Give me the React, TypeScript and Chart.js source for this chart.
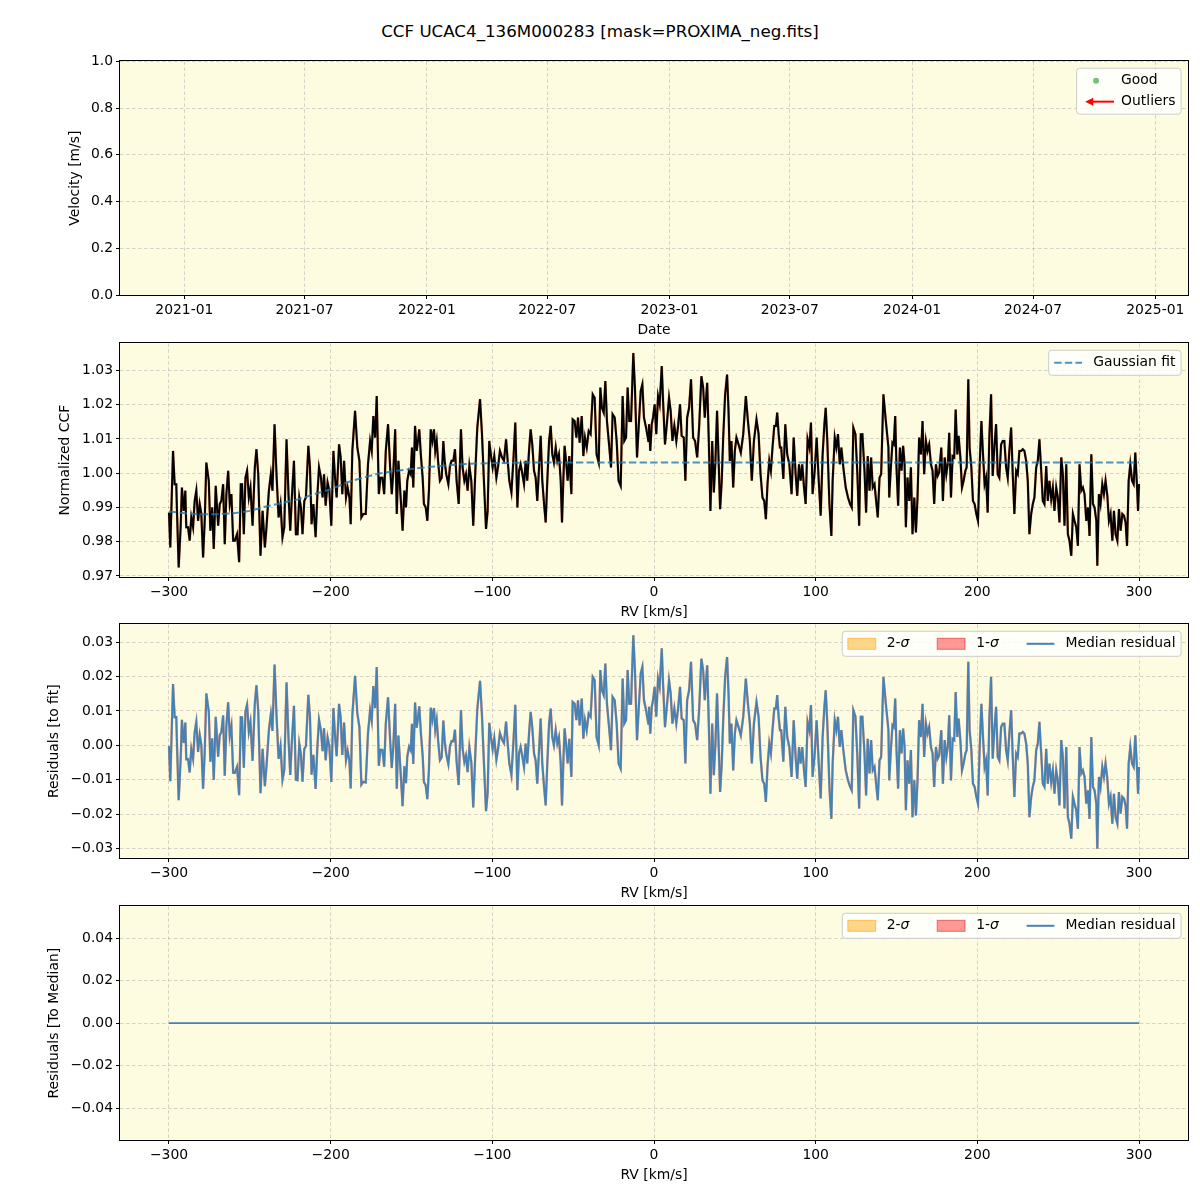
import React, { useEffect, useRef } from 'react';
import { Chart, registerables } from 'chart.js';

Chart.register(...registerables);

const FONT = "'DejaVu Sans', sans-serif";
const FS = 13.9;
const BG = '#fdfce1';
const TITLE = 'CCF UCAC4_136M000283 [mask=PROXIMA_neg.fits]';

// ---------- data ----------
// panel 1 (no measurements plotted)
const goodDates: number[] = [];
const goodVelocity: number[] = [];
const outlierDates: number[] = [];
const outlierVelocity: number[] = [];
// date ticks: days since 2021-01-01
const dateTickDays = [0, 181, 365, 546, 730, 911, 1095, 1277, 1461];
const dateTickLabels = ['2021-01', '2021-07', '2022-01', '2022-07', '2023-01', '2023-07', '2024-01', '2024-07', '2025-01'];
const velocityTicks = [0, 0.2, 0.4, 0.6, 0.8, 1.0];

const rvTicks = [-300, -200, -100, 0, 100, 200, 300];
const ccfTicks = [0.97, 0.98, 0.99, 1.0, 1.01, 1.02, 1.03];
const residTicks = [-0.03, -0.02, -0.01, 0, 0.01, 0.02, 0.03];
const medianTicks = [-0.04, -0.02, 0, 0.02, 0.04];

// CCF profile: [RV km/s, normalized CCF]
const ccfPoints: [number, number][] = [
  [-300, 0.9885], [-299.2, 0.9783], [-297.5, 1.0065], [-296.5, 0.9968], [-295.5, 0.9968], [-295, 0.9881], [-294, 0.9725], [-292.8, 0.9842], [-292, 0.9958], [-290.9, 0.989],
  [-289.9, 0.9949], [-289.3, 0.9842], [-288.2, 0.9842], [-287.2, 0.9803], [-286.2, 0.9871], [-285.1, 0.9842], [-284.1, 0.9919], [-283.1, 0.9949], [-282, 0.9861], [-281, 0.991],
  [-280, 0.9881], [-278.9, 0.9754], [-277.9, 0.9861], [-276.9, 1.0031], [-275.4, 0.9978], [-274.4, 0.9832], [-273.3, 0.99], [-272.3, 0.9779], [-271.1, 0.9963], [-269.6, 0.9847],
  [-268.6, 0.991], [-267.6, 0.9919], [-266.5, 0.9968], [-265.5, 0.9793], [-264.5, 0.9939], [-263.4, 1.0007], [-262.4, 0.991], [-261.4, 0.9939], [-260.3, 0.9803], [-259.3, 0.9803],
  [-257.9, 0.9822], [-256.6, 0.974], [-255.6, 0.9968], [-254.8, 0.9968], [-253.7, 0.9822], [-252.7, 0.9987], [-251.7, 1.0007], [-250.6, 0.9929], [-249.6, 0.9958], [-248.3, 0.9847],
  [-246.9, 1.0017], [-245.9, 1.007], [-244.8, 0.9997], [-243.4, 0.9759], [-242.1, 0.989], [-240.7, 0.9783], [-239.7, 0.9842], [-238.2, 0.9949], [-237, 0.9997], [-236, 0.9949],
  [-234.7, 1.0143], [-233.5, 0.9997], [-232.2, 0.9871], [-231, 0.991], [-229.8, 0.9813], [-228.7, 0.9842], [-227.3, 1.0099], [-226, 0.9929], [-225, 0.9832], [-224, 0.9929],
  [-222.7, 1.0036], [-221.5, 0.9822], [-220.5, 0.9822], [-219.4, 0.9929], [-218.4, 0.99], [-217.4, 0.9822], [-216.3, 0.9919], [-215.3, 0.9929], [-213.8, 1.008], [-212.8, 1.0017],
  [-211.8, 0.9851], [-210.7, 0.991], [-209.3, 0.9813], [-208.3, 0.9929], [-207.2, 1.0017], [-206, 0.9987], [-205, 0.9929], [-204.1, 0.9997], [-203.1, 0.9905], [-201.9, 0.9973],
  [-200.8, 0.9949], [-199.6, 0.9847], [-198.3, 1.0065], [-197.3, 0.9987], [-196.3, 0.9929], [-194.8, 1.0084], [-193.8, 1.0046], [-192.8, 0.9939], [-191.7, 1.0036], [-190.5, 0.9929],
  [-189.5, 0.9958], [-188.4, 0.9929], [-187.6, 0.9851], [-186.6, 1.0065], [-184.9, 1.0182], [-183.5, 1.0075], [-182.2, 1.0036], [-181, 0.9871], [-179.8, 0.9881], [-178.3, 0.9881],
  [-176.9, 1.0026], [-175.6, 1.0094], [-174.6, 1.0065], [-173.6, 1.0167], [-172.5, 1.0104], [-171.5, 1.0225], [-170.2, 0.9939], [-169.2, 0.9987], [-168, 0.9987], [-166.9, 0.9939],
  [-165.9, 1.0065], [-164.5, 1.0143], [-163.2, 1.0017], [-162.2, 0.9939], [-161.2, 1.0007], [-160.1, 1.0128], [-159.1, 0.9881], [-158.1, 1.0036],
  [-156.1, 0.9881], [-155.5, 0.9832], [-154.4, 0.9949], [-153.4, 0.99], [-152.6, 0.9978], [-151.5, 1.0007], [-150.5, 0.9997], [-149.7, 1.0075], [-148.9, 0.9958], [-147.8, 1.0138],
  [-146.8, 1.0065], [-146, 1.0094], [-145.2, 1.0128], [-144.1, 1.0046], [-143.1, 0.9987], [-142.3, 0.991], [-141.2, 0.99], [-140.2, 0.9861], [-139.2, 0.9949], [-138.1, 1.0128],
  [-137.1, 1.0094], [-136.1, 1.0128], [-135.3, 1.0065], [-134.4, 1.0094], [-133.4, 1.0026], [-132.4, 0.9978], [-131.3, 0.9987], [-130.3, 1.0094], [-129.5, 1.0036], [-128.5, 0.9997],
  [-127.2, 0.9968], [-126.2, 1.0021], [-125.2, 1.0036], [-124.1, 1.0036], [-123.1, 1.007], [-122.1, 0.9978], [-120.8, 0.991], [-119.4, 1.0128], [-118.4, 1.0017], [-117.3, 0.9978],
  [-116.3, 0.9997], [-115.3, 0.9949], [-114.2, 1.0021], [-113, 0.9978], [-111.8, 0.9847], [-110.5, 1.0007], [-109.3, 1.0133], [-107.6, 1.0216], [-106.4, 1.0114], [-105.2, 0.9978],
  [-103.9, 0.9837], [-102.9, 0.989], [-101.9, 1.0094], [-100.8, 1.005], [-99.8, 1.0017], [-98.8, 1.005], [-97.5, 0.9987], [-96.5, 1.0017], [-95.3, 1.0065], [-94, 1.0046],
  [-92.8, 1.0036], [-91.5, 1.0099], [-90.5, 1.0036], [-89.5, 0.9978], [-88.2, 0.9944], [-87, 1.0036], [-85.8, 1.0148], [-84.5, 0.99], [-83.5, 1.0007], [-82.5, 1.0026],
  [-81.4, 0.9997], [-80.4, 0.9968], [-79.4, 1.0036], [-78.4, 0.9978], [-77.3, 1.0065], [-76.3, 1.0128], [-75.3, 1.0084], [-74.2, 1.0007], [-73.2, 0.9987], [-72.2, 0.9919],
  [-71.1, 1.0017], [-70.1, 1.0109], [-69.1, 0.9978], [-68, 0.991], [-67, 0.9856], [-66, 0.9978], [-64.9, 1.0094], [-63.9, 1.0138], [-62.9, 1.0055], [-61.9, 1.0031],
  [-60.8, 1.0075], [-59.8, 1.0036], [-58.8, 1.0055], [-57.7, 0.9978], [-56.9, 0.9856], [-56.1, 0.9978], [-55.3, 1.008], [-54.4, 1.0036], [-53.4, 0.9978], [-52.4, 1.005],
  [-51.1, 0.9939], [-50.3, 1.0157], [-49.1, 1.0152], [-48, 1.0104], [-47, 1.0162], [-46, 1.0089], [-44.7, 1.0167], [-43.7, 1.005], [-42.7, 1.0104], [-41.6, 1.0075],
  [-40.4, 1.0123], [-39.2, 1.0114], [-37.9, 1.023], [-36.7, 1.022], [-35.5, 1.0055], [-34.2, 1.0031], [-33.2, 1.025], [-32.2, 1.0191], [-31.1, 1.0177], [-30.1, 1.0269],
  [-29.1, 1.0152], [-27.8, 1.0084], [-26.6, 1.0017], [-25.6, 1.0172], [-24.3, 1.0162], [-23.1, 1.0094], [-21.9, 0.9978], [-20.6, 0.9963], [-19.4, 1.0225], [-18.4, 1.0094],
  [-17.3, 1.0104], [-16.3, 1.025], [-15.3, 1.0152], [-14.2, 1.0152], [-12.8, 1.0351], [-11.8, 1.025], [-10.5, 1.0046], [-9.5, 1.0133], [-8.2, 1.024], [-7.2, 1.0259],
  [-6.2, 1.0162], [-4.9, 1.0133], [-3.5, 1.0094],
  [-3.1, 1.0143], [-2.3, 1.0065], [-1.4, 1.0143], [-0.6, 1.0162], [0.4, 1.0201], [1.4, 1.0114], [2.5, 1.0225], [3.5, 1.0201], [4.8, 1.0313], [5.6, 1.0211],
  [6.8, 1.0084], [8.1, 1.0152], [9.3, 1.022], [10.3, 1.0182], [11.4, 1.0094], [12.6, 1.0138], [13.8, 1.0094], [14.9, 1.0138], [16.1, 1.0201], [17.1, 1.0109],
  [18.4, 1.0104], [19.4, 0.9978], [20.5, 1.0162], [21.7, 1.0191], [22.9, 1.0274], [24.2, 1.0104], [25.4, 1.0094], [26.7, 1.0046], [27.9, 1.0133], [29.3, 1.0283],
  [30.4, 1.025], [31.4, 1.0162], [32.9, 1.0264], [33.9, 1.0094], [34.9, 0.989], [36, 1.0094], [37, 0.9944], [38, 1.0036], [39, 1.0182], [40.1, 1.0017],
  [40.9, 0.9895], [41.9, 0.9978], [42.8, 1.0104], [44, 1.023], [45.2, 1.0288], [46.1, 1.0182], [46.9, 1.0036], [47.9, 1.0094], [49, 0.9958], [50, 1.0065],
  [51, 1.0104], [52.3, 1.0084], [53.7, 1.006], [55.2, 1.0114], [56.8, 1.0225], [58.1, 1.0152], [59.3, 1.0094], [60.5, 0.9978], [61.8, 1.0094], [63.4, 1.0157],
  [64.7, 1.0114], [65.9, 0.9997], [67.1, 0.9929], [68.2, 0.9919], [69.2, 0.9866], [70.2, 0.9968], [71.3, 1.0036], [72.3, 1.0007], [73.3, 1.0075], [74.4, 1.0138],
  [75.4, 1.0138], [76.2, 1.0177], [77.1, 1.0114], [77.9, 1.0075], [78.7, 1.0075], [80, 0.9983], [81.2, 1.0143], [82.4, 1.0055], [83.7, 1.0026], [85.1, 0.9939],
  [86.4, 1.0104], [87.6, 0.9997], [88.6, 0.9934], [89.7, 1.0026], [90.7, 0.9978], [91.7, 1.0026], [92.8, 0.9958], [93.8, 0.991], [95, 1.0099], [96.1, 1.0075],
  [97.1, 1.0148], [98.1, 0.9939], [99.4, 1.0007], [100.6, 1.0104], [101.9, 0.9978], [103.1, 0.9876], [104.3, 1.0055], [105.4, 1.0143], [106.2, 1.0191], [107.2, 1.0094],
  [108.5, 0.991], [109.7, 0.9817], [110.5, 0.9978], [111.8, 1.0104], [112.8, 1.0075], [113.8, 1.0114], [114.9, 1.0026], [115.9, 1.0075], [117.1, 1.0017], [118.6, 0.9958],
  [120, 0.9929], [121.3, 0.991], [122.3, 0.99], [123.3, 1.0133], [124.6, 1.0114], [125.8, 0.9997], [126.9, 0.9847], [127.9, 1.0114], [128.9, 1.0114], [130.2, 1.0007],
  [131.2, 0.9885], [132.2, 1.005], [133.3, 0.9949], [134.3, 1.0046], [135.3, 0.9958], [136.4, 0.9968], [137.4, 0.9919], [138.4, 0.9871], [139.5, 0.9987], [140.5, 0.9997],
  [141.9, 1.023], [143.4, 1.0152], [145, 1.0075],
  [145.5, 0.9929], [146.5, 1.0017], [147.5, 1.0089], [148.3, 1.0084], [149.2, 1.0167], [150, 1.0017], [151, 0.9905], [152.1, 1.0075], [153.1, 1.0007], [154.1, 1.008],
  [155, 1.0026], [155.8, 0.9842], [156.8, 0.9987], [157.9, 0.9919], [158.9, 1.0017], [159.9, 0.9822], [161, 0.9929], [162, 0.9827], [163, 0.9929], [164, 1.0104],
  [165.1, 1.0055], [166.1, 1.0152], [167.1, 0.9997], [168.2, 1.0094], [169.2, 1.0065], [170.2, 1.0084], [171.3, 1.0026], [172.3, 1.0007], [173.3, 0.991], [174.4, 1.0026],
  [175.4, 0.9992], [176.4, 1.0002], [177.7, 1.0075], [178.7, 0.9919], [179.8, 1.0046], [180.8, 0.9997], [181.8, 1.0031], [182.6, 1.0118], [183.7, 0.9929], [184.7, 1.005],
  [185.7, 1.0046], [186.6, 1.0186], [187.6, 1.0055], [188.4, 1.0109], [189.5, 1.0046], [190.5, 0.9958], [191.5, 0.9978], [192.6, 1.0007], [193.4, 1.0017], [194.4, 1.0274],
  [195.2, 1.0075], [196.3, 1.0017], [197.3, 0.9919], [198.3, 0.991], [199.4, 0.9881], [200.4, 0.9861], [201.4, 1.0017], [202.5, 1.0152], [203.5, 1.0055], [204.5, 0.9968],
  [205.4, 0.9987], [206.4, 0.9885], [207.4, 1.0104], [208.5, 1.023], [209.5, 0.9992], [210.5, 1.0075], [211.6, 1.0143], [212.6, 0.9997], [213.6, 0.9987], [214.7, 1.0084],
  [215.7, 1.0094], [216.7, 1.0094], [217.8, 1.0017], [218.8, 0.9987], [219.8, 1.0065], [220.9, 1.0133], [221.9, 0.9997], [222.9, 0.9881], [224, 1.0007], [225, 0.9997],
  [226, 1.0065], [227.1, 1.0065], [228.1, 1.007], [229.1, 1.0065], [230.2, 1.0036], [231.2, 0.9978], [232.2, 0.9822], [233.3, 0.9881], [234.3, 0.991], [235.3, 0.9929],
  [236.4, 1.0017], [237.4, 1.0036], [238.4, 1.0099], [239.5, 1.0007], [240.5, 0.9919], [241.5, 0.991], [242.6, 1.0021], [243.6, 0.9919], [244.6, 0.9978], [245.7, 0.9924],
  [246.7, 0.9958], [247.7, 0.989], [248.8, 0.9958], [249.8, 0.9929], [250.8, 0.9856], [251.9, 1.0046], [252.9, 0.9997], [253.9, 0.9847], [255, 1.0026], [256, 0.9822],
  [257, 0.9803], [258.1, 0.9759], [259.1, 0.9881], [260.1, 0.9861], [261.2, 0.9842], [262.2, 0.9788], [263.2, 1.0026], [264.3, 0.9949], [265.3, 0.9958], [266.3, 0.9939],
  [267.4, 0.9861], [268.4, 0.99], [269.4, 0.9817], [270.5, 1.0055], [271.5, 0.991], [272.5, 0.99], [273.6, 0.9861], [274.2, 0.973], [275.2, 0.9939], [276.2, 0.991],
  [277.3, 0.9968], [278.3, 0.9939], [279.3, 0.9978], [280.4, 0.9934], [281.4, 0.9861], [282.4, 0.9881], [283.5, 0.9803], [284.5, 0.989], [285.5, 0.9822], [286.6, 0.9803],
  [287.6, 0.9895], [288.6, 0.9832], [289.7, 0.9881], [290.7, 0.9876], [291.7, 0.9856], [292.6, 0.9788], [293.6, 0.9978], [294.6, 1.0026], [295.7, 0.9978], [296.7, 0.9968],
  [297.7, 1.006], [298.8, 0.9958], [299.4, 0.989], [300, 0.9968],
];

// Gaussian fit curve: [RV, value]
const fitPoints: [number, number][] = [
  [-300, 0.9888], [-290, 0.9883], [-280, 0.988], [-270, 0.988], [-260, 0.9883], [-250, 0.989],
  [-240, 0.9903], [-230, 0.9913], [-220, 0.9924], [-210, 0.9939], [-200, 0.9953], [-190, 0.9973],
  [-180, 0.9987], [-170, 0.9999], [-160, 1.0007], [-150, 1.0012], [-140, 1.0018], [-130, 1.0022],
  [-120, 1.0026], [-110, 1.0028], [-100, 1.0029], [-90, 1.003], [-80, 1.0031], [300, 1.0031],
];

// residuals to the median (all zero)
const medianRv = [-300, 300];
const medianResidual = [0, 0];

// ---------- helpers ----------
function fitAt(v: number): number {
  for (let i = 0; i < fitPoints.length - 1; i++) {
    const [x0, y0] = fitPoints[i];
    const [x1, y1] = fitPoints[i + 1];
    if (v >= x0 && v <= x1) return y0 + ((y1 - y0) * (v - x0)) / (x1 - x0);
  }
  return fitPoints[fitPoints.length - 1][1];
}
const residualPoints = ccfPoints.map(([x, y]) => ({ x, y: y - fitAt(x) }));

const minus = (s: string) => s.replace('-', '\u2212');

type LegendItem = {
  kind: 'dot' | 'arrow' | 'dash' | 'line' | 'patch';
  color: string;
  edge?: string;
  label: string;
  italic?: string;
};

function drawLegend(chart: any, items: LegendItem[], horizontal: boolean) {
  const ctx: CanvasRenderingContext2D = chart.ctx;
  const a = chart.chartArea;
  const pad = 0.4 * FS;
  const handle = 2 * FS;
  const textPad = 0.8 * FS;
  const colSp = 2 * FS;
  const rowGap = 0.5 * FS;
  const edge = 0.5 * FS;
  ctx.save();
  const widths = items.map((it) => {
    ctx.font = `${FS}px ${FONT}`;
    let w = ctx.measureText(it.label).width;
    if (it.italic) {
      ctx.font = `italic ${FS}px ${FONT}`;
      w += ctx.measureText(it.italic).width;
    }
    return w;
  });
  let w: number, h: number;
  if (horizontal) {
    w = 2 * pad + widths.reduce((s, tw) => s + handle + textPad + tw, 0) + (items.length - 1) * colSp;
    h = 2 * pad + FS;
  } else {
    w = 2 * pad + handle + textPad + Math.max(...widths);
    h = 2 * pad + items.length * FS + (items.length - 1) * rowGap;
  }
  const x0 = a.right - edge - w;
  const y0 = a.top + edge;
  ctx.beginPath();
  (ctx as any).roundRect(x0, y0, w, h, 3);
  ctx.fillStyle = 'rgba(255,255,255,0.8)';
  ctx.fill();
  ctx.strokeStyle = '#cccccc';
  ctx.lineWidth = 1;
  ctx.stroke();

  let cx = x0 + pad;
  items.forEach((it, i) => {
    const hx = horizontal ? cx : x0 + pad;
    const cy = horizontal ? y0 + pad + FS / 2 : y0 + pad + FS / 2 + i * (FS + rowGap);
    ctx.save();
    if (it.kind === 'dot') {
      ctx.fillStyle = it.color;
      ctx.beginPath();
      ctx.arc(hx + handle / 2, cy, 3, 0, Math.PI * 2);
      ctx.fill();
    } else if (it.kind === 'arrow') {
      ctx.strokeStyle = it.color;
      ctx.fillStyle = it.color;
      ctx.lineWidth = 2;
      const xa = hx + 3;
      const xb = hx + handle + 4;
      ctx.beginPath();
      ctx.moveTo(xa + 5, cy);
      ctx.lineTo(xb, cy);
      ctx.stroke();
      ctx.beginPath();
      ctx.moveTo(xa, cy);
      ctx.lineTo(xa + 8, cy - 4);
      ctx.lineTo(xa + 8, cy + 4);
      ctx.closePath();
      ctx.fill();
    } else if (it.kind === 'dash' || it.kind === 'line') {
      ctx.strokeStyle = it.color;
      ctx.lineWidth = 2;
      if (it.kind === 'dash') ctx.setLineDash([7.4, 3.2]);
      ctx.beginPath();
      ctx.moveTo(hx, cy);
      ctx.lineTo(hx + handle, cy);
      ctx.stroke();
    } else if (it.kind === 'patch') {
      ctx.fillStyle = it.color;
      ctx.fillRect(hx, cy - 5.5, handle, 11);
      ctx.strokeStyle = it.edge || it.color;
      ctx.lineWidth = 1;
      ctx.strokeRect(hx, cy - 5.5, handle, 11);
    }
    ctx.restore();
    const tx = hx + handle + textPad;
    ctx.fillStyle = '#000';
    ctx.textBaseline = 'middle';
    ctx.textAlign = 'left';
    ctx.font = `${FS}px ${FONT}`;
    ctx.fillText(it.label, tx, cy);
    if (it.italic) {
      const lw = ctx.measureText(it.label).width;
      ctx.font = `italic ${FS}px ${FONT}`;
      ctx.fillText(it.italic, tx + lw, cy);
    }
    cx += handle + textPad + widths[i] + colSp;
  });
  ctx.restore();
}

interface PanelSpec {
  top: number;
  padLeft: number;
  xMin: number;
  xMax: number;
  xTicks: number[];
  xFormat: (v: number) => string;
  xTitle: string;
  yMin: number;
  yMax: number;
  yTicks: number[];
  yFormat: (v: number) => string;
  yTitle: string;
  datasets: any[];
  legend: LegendItem[];
  horizontal: boolean;
}

const PAD_TOP = 10;
const PLOT_H = 235;
const X_AXIS_H = 44;
const CANVAS_H = PAD_TOP + PLOT_H + X_AXIS_H;

function axisCommon() {
  return {
    grid: {
      color: 'rgba(165,165,165,0.6)',
      lineWidth: 0.8,
      drawTicks: true,
      tickLength: 4,
      tickColor: '#000',
      tickWidth: 1,
      tickBorderDash: [],
    },
    border: { display: false, dash: [3.5, 2.5] },
  };
}

function Panel({ spec }: { spec: PanelSpec }) {
  const ref = useRef<HTMLCanvasElement | null>(null);
  useEffect(() => {
    if (!ref.current) return;
    const deco = {
      id: 'deco',
      beforeDraw(chart: any) {
        const { ctx, chartArea: a } = chart;
        ctx.save();
        ctx.fillStyle = BG;
        ctx.fillRect(a.left, a.top, a.right - a.left, a.bottom - a.top);
        ctx.restore();
      },
      afterDraw(chart: any) {
        const { ctx, chartArea: a } = chart;
        ctx.save();
        ctx.strokeStyle = '#000';
        ctx.lineWidth = 1;
        ctx.strokeRect(Math.round(a.left) - 0.5, Math.round(a.top) - 0.5, Math.round(a.right - a.left) + 1, Math.round(a.bottom - a.top) + 1);
        ctx.restore();
        drawLegend(chart, spec.legend, spec.horizontal);
      },
    };
    const font = { family: FONT, size: FS };
    const chart = new Chart(ref.current, {
      type: 'line',
      data: { datasets: spec.datasets },
      options: {
        responsive: false,
        animation: false,
        devicePixelRatio: 1,
        events: [],
        layout: { padding: { top: PAD_TOP, right: 12, left: spec.padLeft, bottom: 0 } },
        plugins: { legend: { display: false }, tooltip: { enabled: false }, title: { display: false } },
        elements: { point: { radius: 0 }, line: { tension: 0 } },
        scales: {
          x: {
            type: 'linear',
            min: spec.xMin,
            max: spec.xMax,
            afterFit: (s: any) => {
              s.height = X_AXIS_H;
            },
            afterBuildTicks: (s: any) => {
              s.ticks = spec.xTicks.map((v) => ({ value: v }));
            },
            ticks: {
              callback: (v: any) => spec.xFormat(Number(v)),
              autoSkip: false,
              maxRotation: 0,
              minRotation: 0,
              padding: 3,
              color: '#000',
              font,
            },
            title: { display: true, text: spec.xTitle, color: '#000', font, padding: 0 },
            ...axisCommon(),
          },
          y: {
            type: 'linear',
            min: spec.yMin,
            max: spec.yMax,
            afterFit: (s: any) => {
              s.width = 120 - spec.padLeft;
            },
            afterBuildTicks: (s: any) => {
              s.ticks = spec.yTicks.map((v) => ({ value: v }));
            },
            ticks: {
              callback: (v: any) => spec.yFormat(Number(v)),
              autoSkip: false,
              padding: 3,
              color: '#000',
              font,
            },
            title: { display: true, text: spec.yTitle, color: '#000', font, padding: 0 },
            ...axisCommon(),
          },
        },
      } as any,
      plugins: [deco],
    });
    return () => chart.destroy();
  }, [spec]);
  return (
    <canvas
      ref={ref}
      width={1200}
      height={CANVAS_H}
      style={{ position: 'absolute', left: 0, top: spec.top - PAD_TOP, width: 1200, height: CANVAS_H }}
    />
  );
}

const dateFormat = (v: number) => {
  const i = dateTickDays.indexOf(v);
  return i >= 0 ? dateTickLabels[i] : '';
};
const rvFormat = (v: number) => minus(String(Math.round(v)));

const steel = '#4682b4';

const panels: PanelSpec[] = [
  {
    top: 60,
    padLeft: 66.6,
    xMin: -96.8,
    xMax: 1510.2,
    xTicks: dateTickDays,
    xFormat: dateFormat,
    xTitle: 'Date',
    yMin: 0,
    yMax: 1,
    yTicks: velocityTicks,
    yFormat: (v) => v.toFixed(1),
    yTitle: 'Velocity [m/s]',
    datasets: [
      {
        label: 'Good',
        data: goodDates.map((x, i) => ({ x, y: goodVelocity[i] })),
        showLine: false,
        pointRadius: 3,
        backgroundColor: 'rgba(44,160,44,0.7)',
      },
      {
        label: 'Outliers',
        data: outlierDates.map((x, i) => ({ x, y: outlierVelocity[i] })),
        showLine: false,
        pointRadius: 3,
        backgroundColor: 'red',
      },
    ],
    legend: [
      { kind: 'dot', color: 'rgba(44,160,44,0.65)', label: 'Good' },
      { kind: 'arrow', color: '#ff0000', label: 'Outliers' },
    ],
    horizontal: false,
  },
  {
    top: 342,
    padLeft: 56.6,
    xMin: -330.3,
    xMax: 330.3,
    xTicks: rvTicks,
    xFormat: rvFormat,
    xTitle: 'RV [km/s]',
    yMin: 0.9697,
    yMax: 1.0379,
    yTicks: ccfTicks,
    yFormat: (v) => v.toFixed(2),
    yTitle: 'Normalized CCF',
    datasets: [
      {
        label: 'Gaussian fit',
        data: fitPoints.map(([x, y]) => ({ x, y })),
        borderColor: 'rgba(31,119,180,0.8)',
        borderWidth: 2,
        borderDash: [7.4, 3.2],
        pointRadius: 0,
        fill: false,
        order: 0,
      },
      {
        label: 'CCF',
        data: ccfPoints.map(([x, y]) => ({ x, y })),
        borderColor: '#000000',
        borderWidth: 2,
        pointRadius: 0,
        fill: false,
        order: 1,
      },
      {
        label: 'CCF band',
        data: ccfPoints.map(([x, y]) => ({ x, y })),
        borderColor: 'rgba(220,110,50,0.7)',
        borderWidth: 2.5,
        pointRadius: 0,
        fill: false,
        order: 2,
      },
    ],
    legend: [{ kind: 'dash', color: 'rgba(31,119,180,0.8)', label: 'Gaussian fit' }],
    horizontal: false,
  },
  {
    top: 623,
    padLeft: 45.6,
    xMin: -330.3,
    xMax: 330.3,
    xTicks: rvTicks,
    xFormat: rvFormat,
    xTitle: 'RV [km/s]',
    yMin: -0.0328,
    yMax: 0.0352,
    yTicks: residTicks,
    yFormat: (v) => minus(v.toFixed(2)),
    yTitle: 'Residuals [to fit]',
    datasets: [
      {
        label: 'Median residual',
        data: residualPoints,
        borderColor: steel,
        borderWidth: 2,
        pointRadius: 0,
        fill: false,
        order: 0,
      },
      {
        label: '1-sigma',
        data: residualPoints,
        borderColor: 'rgba(235,110,70,0.6)',
        borderWidth: 2.5,
        pointRadius: 0,
        fill: false,
        order: 1,
      },
    ],
    legend: [
      { kind: 'patch', color: 'rgba(255,165,0,0.45)', edge: 'rgba(255,165,0,0.6)', label: '2-', italic: '\u03c3' },
      { kind: 'patch', color: 'rgba(255,0,0,0.4)', edge: 'rgba(220,0,0,0.5)', label: '1-', italic: '\u03c3' },
      { kind: 'line', color: steel, label: 'Median residual' },
    ],
    horizontal: true,
  },
  {
    top: 905,
    padLeft: 45.6,
    xMin: -330.3,
    xMax: 330.3,
    xTicks: rvTicks,
    xFormat: rvFormat,
    xTitle: 'RV [km/s]',
    yMin: -0.055,
    yMax: 0.055,
    yTicks: medianTicks,
    yFormat: (v) => minus(v.toFixed(2)),
    yTitle: 'Residuals [To Median]',
    datasets: [
      {
        label: 'Median residual',
        data: medianRv.map((x, i) => ({ x, y: medianResidual[i] })),
        borderColor: steel,
        borderWidth: 1.8,
        pointRadius: 0,
        fill: false,
        order: 0,
      },
    ],
    legend: [
      { kind: 'patch', color: 'rgba(255,165,0,0.45)', edge: 'rgba(255,165,0,0.6)', label: '2-', italic: '\u03c3' },
      { kind: 'patch', color: 'rgba(255,0,0,0.4)', edge: 'rgba(220,0,0,0.5)', label: '1-', italic: '\u03c3' },
      { kind: 'line', color: steel, label: 'Median residual' },
    ],
    horizontal: true,
  },
];

export default function App() {
  return (
    <div style={{ position: 'absolute', left: 0, top: 0, width: 1200, height: 1200, background: '#fff', overflow: 'hidden' }}>
      <div
        style={{
          position: 'absolute',
          left: 0,
          top: 21,
          width: 1200,
          textAlign: 'center',
          fontFamily: FONT,
          fontSize: 16.7,
          lineHeight: '20px',
          color: '#000',
        }}
      >
        {TITLE}
      </div>
      {panels.map((p, i) => (
        <Panel key={i} spec={p} />
      ))}
    </div>
  );
}
